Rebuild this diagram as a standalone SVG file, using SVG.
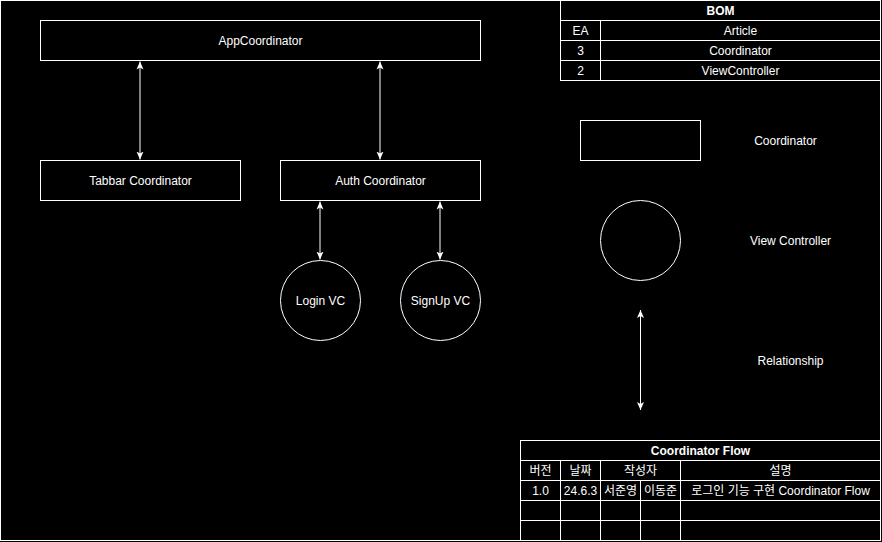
<svg xmlns="http://www.w3.org/2000/svg" width="882" height="542" viewBox="0 0 882 542">
<style>
.b{fill:#000;stroke:#fff;stroke-width:1}
.t{fill:#fff;font-family:"Liberation Sans","Noto Sans CJK KR",sans-serif;font-size:12px;text-anchor:middle;dominant-baseline:central}
.bold{font-weight:bold}
.c{stroke:#fff;stroke-width:1;fill:none;marker-start:url(#ah);marker-end:url(#ah)}
.g{stroke:#fff;stroke-width:1}
</style>
<defs>
<marker id="ah" viewBox="0 0 8 8" refX="8" refY="4" markerWidth="8" markerHeight="8" markerUnits="userSpaceOnUse" orient="auto-start-reverse">
<path d="M0,0.5 L8,4 L0,7.5 L2,4 Z" fill="#fff"/>
</marker>
</defs>
<rect x="0" y="0" width="882" height="542" fill="#000"/>
<rect x="0.5" y="0.5" width="880" height="540" fill="none" stroke="#fff"/>

<g id="connectors">
<line class="c" x1="140" y1="61.5" x2="140" y2="159.5"/>
<line class="c" x1="380" y1="61.5" x2="380" y2="159.5"/>
<line class="c" x1="320" y1="201.5" x2="320" y2="259.5"/>
<line class="c" x1="440" y1="201.5" x2="440" y2="259.5"/>
</g>

<g id="app-coordinator">
<rect class="b" x="40.5" y="20.5" width="440" height="40"/>
<text class="t" x="260.5" y="40.5">AppCoordinator</text>
</g>
<g id="tabbar-coordinator">
<rect class="b" x="40.5" y="160.5" width="200" height="40"/>
<text class="t" x="140.5" y="180.5">Tabbar Coordinator</text>
</g>
<g id="auth-coordinator">
<rect class="b" x="280.5" y="160.5" width="200" height="40"/>
<text class="t" x="380.5" y="180.5">Auth Coordinator</text>
</g>
<g id="login-vc">
<circle class="b" cx="320.5" cy="300.5" r="40"/>
<text class="t" x="320.5" y="300.5">Login VC</text>
</g>
<g id="signup-vc">
<circle class="b" cx="440.5" cy="300.5" r="40"/>
<text class="t" x="440.5" y="300.5">SignUp VC</text>
</g>

<g id="bom">
<rect class="b" x="560.5" y="0.5" width="320" height="80"/>
<line class="g" x1="560.5" y1="20.5" x2="880.5" y2="20.5"/>
<line class="g" x1="560.5" y1="40.5" x2="880.5" y2="40.5"/>
<line class="g" x1="560.5" y1="60.5" x2="880.5" y2="60.5"/>
<line class="g" x1="600.5" y1="20.5" x2="600.5" y2="80.5"/>
<text class="t bold" x="720.5" y="10.5">BOM</text>
<text class="t" x="580.5" y="30.5">EA</text>
<text class="t" x="740.5" y="30.5">Article</text>
<text class="t" x="580.5" y="50.5">3</text>
<text class="t" x="740.5" y="50.5">Coordinator</text>
<text class="t" x="580.5" y="70.5">2</text>
<text class="t" x="740.5" y="70.5">ViewController</text>
</g>

<g id="legend-coordinator">
<rect class="b" x="580.5" y="120.5" width="120" height="40"/>
<text class="t" x="785.5" y="140.5">Coordinator</text>
</g>
<g id="legend-viewcontroller">
<circle class="b" cx="640.5" cy="240.5" r="40"/>
<text class="t" x="790.5" y="240.5">View Controller</text>
</g>
<g id="legend-relationship">
<line class="c" x1="640.5" y1="310" x2="640.5" y2="410"/>
<text class="t" x="790.5" y="360.5">Relationship</text>
</g>

<g id="coordinator-flow">
<rect class="b" x="520.5" y="440.5" width="360" height="100"/>
<line class="g" x1="520.5" y1="460.5" x2="880.5" y2="460.5"/>
<line class="g" x1="520.5" y1="480.5" x2="880.5" y2="480.5"/>
<line class="g" x1="520.5" y1="500.5" x2="880.5" y2="500.5"/>
<line class="g" x1="520.5" y1="520.5" x2="880.5" y2="520.5"/>
<line class="g" x1="560.5" y1="460.5" x2="560.5" y2="540.5"/>
<line class="g" x1="600.5" y1="460.5" x2="600.5" y2="540.5"/>
<line class="g" x1="640.5" y1="480.5" x2="640.5" y2="540.5"/>
<line class="g" x1="680.5" y1="460.5" x2="680.5" y2="540.5"/>
<text class="t bold" x="700.5" y="450.5">Coordinator Flow</text>
<text class="t" x="540.5" y="470.5">버전</text>
<text class="t" x="580.5" y="470.5">날짜</text>
<text class="t" x="640.5" y="470.5">작성자</text>
<text class="t" x="780.5" y="470.5">설명</text>
<text class="t" x="540.5" y="490.5">1.0</text>
<text class="t" x="580.5" y="490.5">24.6.3</text>
<text class="t" x="620.5" y="490.5">서준영</text>
<text class="t" x="660.5" y="490.5">이동준</text>
<text class="t" x="780.5" y="490.5">로그인 기능 구현 Coordinator Flow</text>
</g>
</svg>
